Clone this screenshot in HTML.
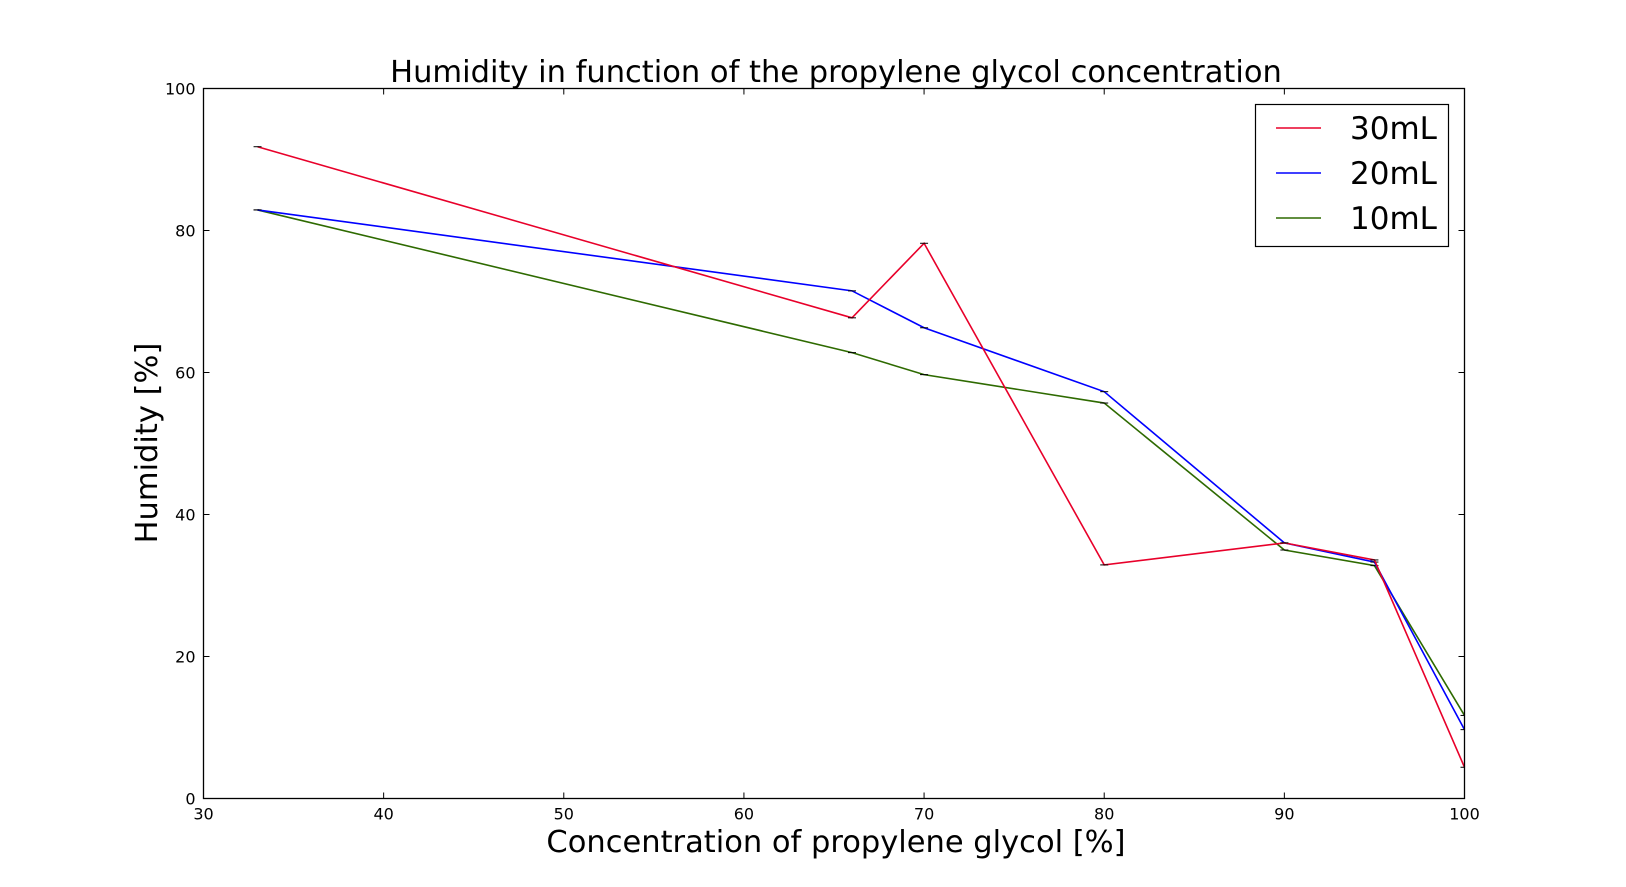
<!DOCTYPE html>
<html><head><meta charset="utf-8"><style>
html,body{margin:0;padding:0;background:#fff;}
svg{display:block;font-family:"DejaVu Sans","Liberation Sans",sans-serif;}
</style></head><body>
<svg id="chart" width="1626" height="887">
<text x="836" y="82" font-size="30.5" text-anchor="middle">Humidity in function of the propylene glycol concentration</text>
<g id="plot"></g>
<rect x="203.5" y="88.5" width="1261" height="710" fill="none" stroke="#000" stroke-width="1.3"/>
<text x="836" y="852" font-size="30.5" text-anchor="middle">Concentration of propylene glycol [%]</text>
<text transform="translate(157,443) rotate(-90)" font-size="30.5" text-anchor="middle">Humidity [%]</text>
<g>
<rect x="1255.5" y="104.5" width="193" height="142" fill="#fff" stroke="#000" stroke-width="1.2"/>
<g id="legend"></g>
</g>
</svg>
<script>
const xValues=[33,66,70,80,90,95,100];
const series30=[91.8,67.7,78.2,32.9,36.0,33.6,4.4];
const series20=[82.9,71.5,66.3,57.3,36.0,33.3,9.7];
const series10=[82.9,62.8,59.7,55.7,35.0,32.8,11.7];
const seriesNames=["30mL","20mL","10mL"];
const xTicks=[30,40,50,60,70,80,90,100];
const yTicks=[0,20,40,60,80,100];
const colors=["#e8002a","#0000ff","#2e6a00"];
const L=203.5,R=1464.5,T=88.5,B=798.5;
const xs=v=>L+(v-30)/70*(R-L);
const ys=v=>B-v/100*(B-T);
const NS="http://www.w3.org/2000/svg";
const svg=document.getElementById('chart'),plot=document.getElementById('plot'),leg=document.getElementById('legend');
function mk(t,a,p){const e=document.createElementNS(NS,t);for(const k in a)e.setAttribute(k,a[k]);(p||svg).appendChild(e);return e;}
xTicks.forEach(t=>{const x=xs(t);
 let e=mk('line',{x1:x,x2:x,y1:B,y2:B-6,stroke:'#000','stroke-width':1});
 
 
 e=mk('line',{x1:x,x2:x,y1:T,y2:T+6,stroke:'#000','stroke-width':1});
 
 
 e=mk('text',{x:x,y:B+21,'font-size':16,'text-anchor':'middle'});e.textContent=t;
 
 
});
yTicks.forEach(t=>{const y=ys(t);
 let e=mk('line',{x1:L,x2:L+6,y1:y,y2:y,stroke:'#000','stroke-width':1});
 
 
 e=mk('line',{x1:R,x2:R-6,y1:y,y2:y,stroke:'#000','stroke-width':1});
 
 
 e=mk('text',{x:L-8,y:y+6,'font-size':16,'text-anchor':'end'});e.textContent=t;
 
 
});
const allSeries=[series30,series20,series10];
[2,1,0].forEach(i=>{const s=allSeries[i];
 const pts=s.map((v,j)=>xs(xValues[j])+','+ys(v)).join(' ');
 let e=mk('polyline',{points:pts,fill:'none',stroke:colors[i],'stroke-width':1.6},plot);
 
 
 s.forEach((v,j)=>{const x=xs(xValues[j]),y=ys(v);
  const c=mk('line',{x1:x-4,x2:Math.min(x+4,R),y1:y,y2:y,stroke:'#000','stroke-width':1},plot);
  
  
 });
});
seriesNames.forEach((n,i)=>{const y=128+i*45;
 let e=mk('line',{x1:1276,x2:1321,y1:y,y2:y,stroke:colors[i],'stroke-width':1.6},leg);
 
 
 e=mk('text',{x:1350,y:y+11,'font-size':31},leg);e.textContent=n;
 
 
});
</script>
</body></html>
